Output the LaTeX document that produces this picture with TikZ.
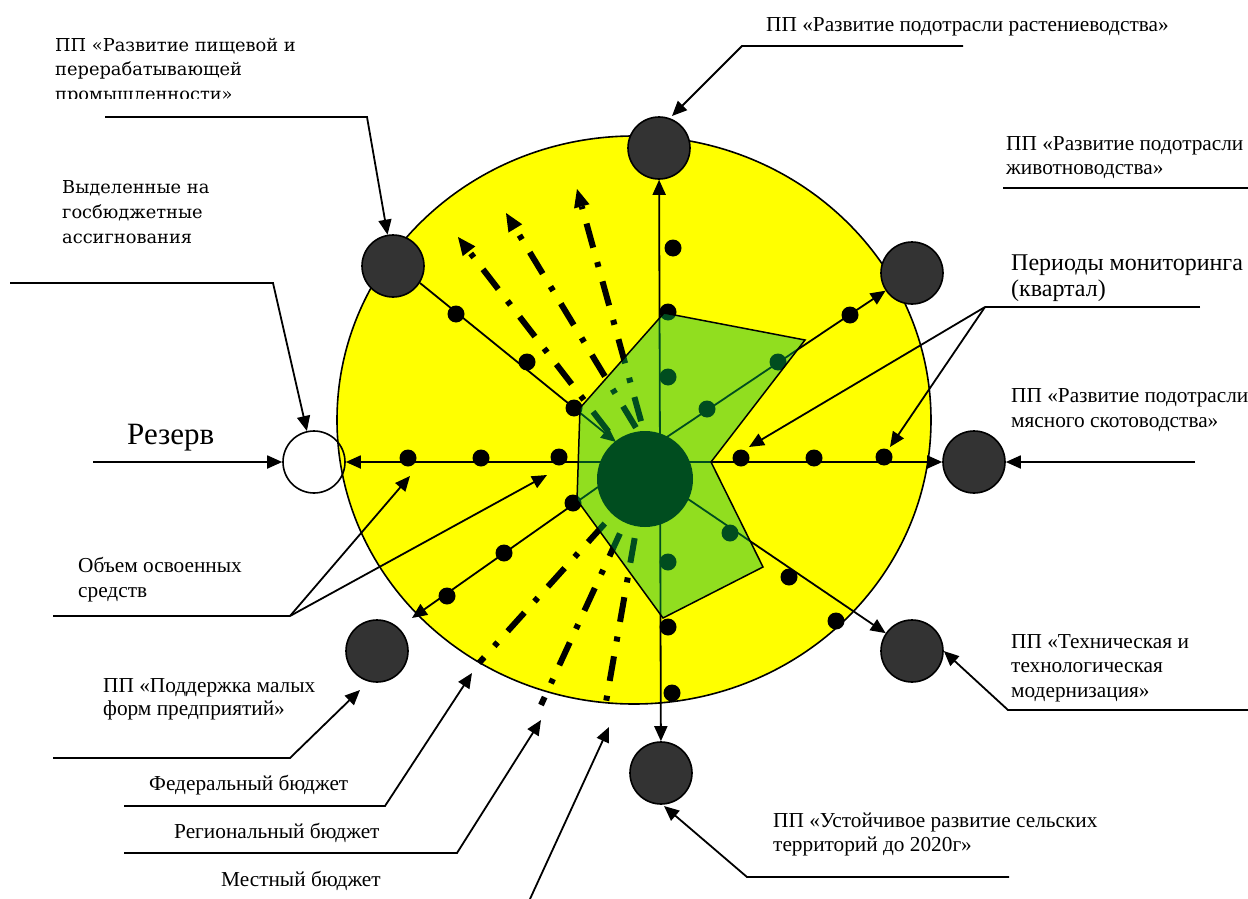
\documentclass[tikz,border=0pt]{standalone}
\usepackage{fontspec}
\setmainfont{Liberation Serif}
\newfontfamily\camfont{DejaVu Serif}
\usetikzlibrary{arrows.meta}
\definecolor{pgray}{RGB}{51,51,51}
\definecolor{ovl}{RGB}{0,179,74}
\definecolor{yel}{RGB}{255,255,0}
\begin{document}
\begin{tikzpicture}[x=1pt,y=-1pt,
 lead/.style={line width=1.8pt},
 arr/.style={-{Triangle[length=15pt,width=13pt]}},
 arrb/.style={{Triangle[length=15pt,width=13pt]}-{Triangle[length=15pt,width=13pt]}},
 ddarrow/.style={line width=6pt, dash pattern=on 25pt off 15pt on 5pt off 15pt, -{Triangle[length=18pt,width=16pt,line width=0pt]}},
 ddline/.style={line width=6pt, dash pattern=on 25pt off 15pt on 5pt off 15pt},
 dotn/.style={circle,fill=black,inner sep=0pt,minimum size=17pt},
 prog/.style={circle,draw=black,line width=1.6pt,fill=pgray,inner sep=0pt,minimum size=62pt},
 lbl/.style={anchor=base west,inner sep=0pt,font=\fontsize{21.3}{25}\selectfont},
 lblc/.style={anchor=base west,inner sep=0pt,font=\camfont\fontsize{17.8}{24}\selectfont},
]
\useasboundingbox (0,0) rectangle (1248,899);
\fill[white] (0,0) rectangle (1248,899);

% yellow field
\draw[line width=1.6pt, fill=yel] (634,420) ellipse [x radius=297pt, y radius=284pt];

% coordinates
\coordinate (cc) at (645,479);
\coordinate (cc2) at (667,479);
\coordinate (cc3) at (657,479);
\coordinate (u1) at (458,237);
\coordinate (u2) at (506,213);
\coordinate (u3) at (577,189);
\coordinate (l1) at (479,663);
\coordinate (l2) at (541,705);
\coordinate (l3) at (606,702);

% dash-dot lines
\draw[ddarrow] (cc) -- (u1);
\draw[ddarrow] (cc2) -- (u2);
\draw[ddarrow] (cc3) -- (u3);
\draw[ddline] (cc) -- (l1);
\draw[ddline] (cc) -- (l2);
\draw[ddline] (cc) -- (l3);

% programme circles
\node[prog] (top) at (659,148) {};
\node[prog] (ul) at (393,266) {};
\node[prog] (ur) at (912,273) {};
\node[prog] (rgt) at (974,462) {};
\node[prog] (lr) at (912,651) {};
\node[prog] (bot) at (661,773) {};
\node[prog] (ll) at (377,651) {};
\node[circle,draw=black,line width=1.6pt,inner sep=0pt,minimum size=62pt] (rez) at (314,462) {};

% radial lines
\draw[lead,arrb] (rez) -- (rgt);
\draw[lead,arrb] (top) -- (bot);
\coordinate (ulS) at (420,283);
\coordinate (ulE) at (616,442);
\draw[lead,arr] (ulS) -- (ulE);
\coordinate (urS) at (661,441);
\draw[lead,arr] (urS) -- (ur);
\coordinate (lrS) at (688,499);
\draw[lead,arr] (lrS) -- (lr);
\coordinate (llS) at (598,487);
\coordinate (llE) at (412,618);
\draw[lead,arr] (llS) -- (llE);

% dots
\node[dotn] (h1) at (408,458) {};
\node[dotn] (h2) at (481,458) {};
\node[dotn] (h3) at (559,457) {};
\node[dotn] (h4) at (741,458) {};
\node[dotn] (h5) at (814,458) {};
\node[dotn] (h6) at (884,457) {};
\node[dotn] (v1) at (673,248) {};
\node[dotn] (v2) at (668,312) {};
\node[dotn] (v3) at (668,377) {};
\node[dotn] (v4) at (668,562) {};
\node[dotn] (v5) at (668,627) {};
\node[dotn] (v6) at (672,693) {};
\node[dotn] (a1) at (456,314) {};
\node[dotn] (a2) at (527,362) {};
\node[dotn] (a3) at (574,408) {};
\node[dotn] (b1) at (707,409) {};
\node[dotn] (b2) at (778,362) {};
\node[dotn] (b3) at (850,315) {};
\node[dotn] (d1) at (730,533) {};
\node[dotn] (d2) at (789,577) {};
\node[dotn] (d3) at (836,621) {};
\node[dotn] (e1) at (573,503) {};
\node[dotn] (e2) at (504,553) {};
\node[dotn] (e3) at (447,596) {};

% central circle
\node[circle,fill=black,inner sep=0pt,minimum size=96pt] (c) at (645,479) {};

% green overlay polygon
\fill[ovl,opacity=0.43] (664,313) -- (805,340) -- (711,462) -- (763,567) -- (663,618) -- (577,500) -- (580,408) -- cycle;
\draw[line width=1.5pt] (664,313) -- (805,340) -- (711,462) -- (763,567) -- (663,618) -- (577,500) -- (580,408) -- cycle;

% ---------- leaders ----------
% растениеводства
\coordinate (p1a) at (963,46);
\coordinate (p1b) at (742,46);
\coordinate (p1t) at (672,116);
\draw[lead,arr] (p1a) -- (p1b) -- (p1t);
% пищевой
\coordinate (p2a) at (105,117);
\coordinate (p2b) at (367,117);
\draw[lead,arr] (p2a) -- (p2b) -- (ul);
% выделенные
\coordinate (p3a) at (10,283);
\coordinate (p3b) at (273,283);
\draw[lead,arr] (p3a) -- (p3b) -- (rez);
% резерв
\coordinate (p4a) at (93,462);
\draw[lead,arr] (p4a) -- (rez);
% объем
\coordinate (p5a) at (53,616);
\coordinate (p5b) at (290,616);
\coordinate (p5t1) at (410,476);
\coordinate (p5t2) at (547,475);
\draw[lead] (p5a) -- (p5b);
\draw[lead,arr] (p5b) -- (p5t1);
\draw[lead,arr] (p5b) -- (p5t2);
% поддержка
\coordinate (p6a) at (53,758);
\coordinate (p6b) at (290,758);
\coordinate (p6t) at (360,690);
\draw[lead,arr] (p6a) -- (p6b) -- (p6t);
% федеральный
\coordinate (p7a) at (124,806);
\coordinate (p7b) at (385,806);
\coordinate (p7t) at (472,673);
\draw[lead,arr] (p7a) -- (p7b) -- (p7t);
% региональный
\coordinate (p8a) at (124,853);
\coordinate (p8b) at (457,853);
\coordinate (p8t) at (541,720);
\draw[lead,arr] (p8a) -- (p8b) -- (p8t);
% местный
\coordinate (p9a) at (530,899);
\coordinate (p9t) at (609,727);
\draw[lead,arr] (p9a) -- (p9t);
% периоды
\coordinate (q1a) at (1200,307);
\coordinate (q1b) at (985,307);
\coordinate (q1t1) at (749,447);
\coordinate (q1t2) at (890,447);
\draw[lead] (q1a) -- (q1b);
\draw[lead,arr] (q1b) -- (q1t1);
\draw[lead,arr] (q1b) -- (q1t2);
% животноводства (line only)
\coordinate (q2a) at (1003,188);
\coordinate (q2b) at (1248,188);
\draw[lead] (q2a) -- (q2b);
% мясного
\coordinate (q3a) at (1195,462);
\draw[lead,arr] (q3a) -- (rgt);
% техническая
\coordinate (q4a) at (1248,710);
\coordinate (q4b) at (1008,710);
\draw[lead,arr] (q4a) -- (q4b) -- (lr.east);
% устойчивое
\coordinate (q5a) at (1009,877);
\coordinate (q5b) at (747,877);
\coordinate (q5t) at (664,806);
\draw[lead,arr] (q5a) -- (q5b) -- (q5t);

% ---------- texts ----------
\node[lblc] (t1a) at (55,52) {ПП «Развитие пищевой и};
\node[lblc] (t1b) at (55,76) {перерабатывающей};
\begin{scope}
\clip (0,80) rectangle (400,98);
\node[lblc] (t1c) at (55,100) {промышленности»};
\end{scope}
\node[lblc] (t2a) at (62,193) {Выделенные на};
\node[lblc] (t2b) at (62,218) {госбюджетные};
\node[lblc] (t2c) at (62,243) {ассигнования};
\node[lbl,font=\fontsize{31}{34}\selectfont] (t3) at (127,444) {Резерв};
\node[lbl] (t4a) at (78,572) {Объем освоенных};
\node[lbl] (t4b) at (78,597) {средств};
\node[lbl] (t5a) at (103,692) {ПП «Поддержка малых};
\node[lbl] (t5b) at (103,715) {форм предприятий»};
\node[lbl] (t6) at (149,790) {Федеральный бюджет};
\node[lbl] (t7) at (174,838) {Региональный бюджет};
\node[lbl] (t8) at (221,886) {Местный бюджет};
\node[lbl] (t9) at (766,32) {ПП «Развитие подотрасли растениеводства»};
\node[lbl] (t10a) at (1006,150) {ПП «Развитие подотрасли};
\node[lbl] (t10b) at (1006,174) {животноводства»};
\node[lbl,font=\fontsize{24}{28}\selectfont] (t11a) at (1011,270) {Периоды мониторинга};
\node[lbl,font=\fontsize{24}{28}\selectfont] (t11b) at (1011,296) {(квартал)};
\node[lbl] (t12a) at (1011,402) {ПП «Развитие подотрасли};
\node[lbl] (t12b) at (1011,427) {мясного скотоводства»};
\node[lbl] (t13a) at (1011,648) {ПП «Техническая и};
\node[lbl] (t13b) at (1011,672) {технологическая};
\node[lbl] (t13c) at (1011,697) {модернизация»};
\node[lbl] (t14a) at (773,827) {ПП «Устойчивое развитие сельских};
\node[lbl] (t14b) at (773,851) {территорий до 2020г»};
\end{tikzpicture}
\end{document}
